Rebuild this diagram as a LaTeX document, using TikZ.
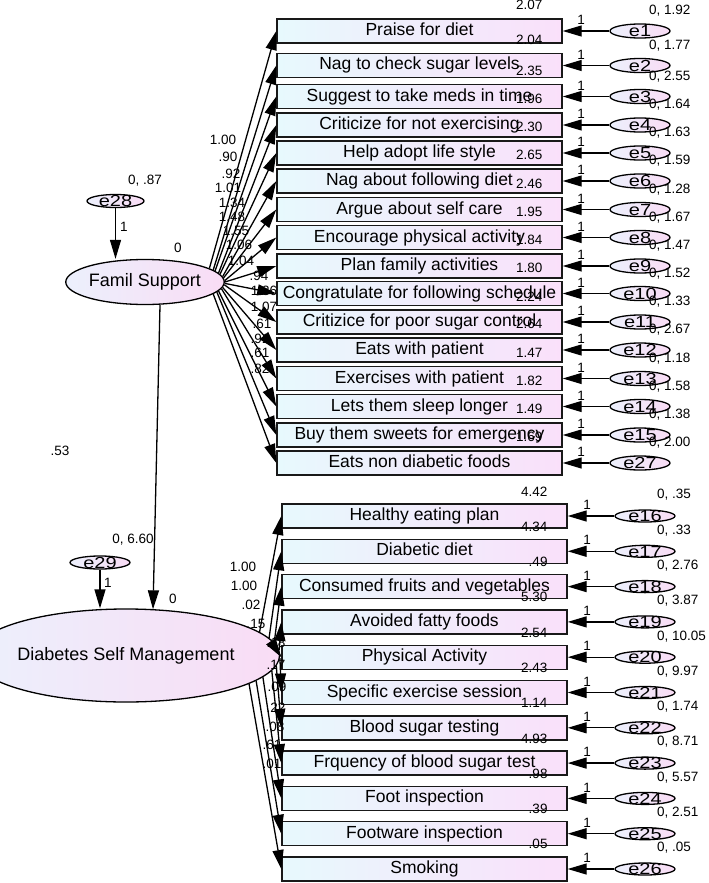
\documentclass[tikz,border=0pt]{standalone}
\usepackage{fontspec}
\setmainfont{Liberation Sans}
\usepackage{graphicx}
\usetikzlibrary{shapes.geometric,arrows.meta,calc}
\definecolor{boxL}{HTML}{E7F9FD}
\definecolor{boxR}{HTML}{FAE0FA}
\definecolor{ellL}{HTML}{ECF0FC}
\definecolor{ellR}{HTML}{F9DCF5}
\newcommand\myelab[1]{\raisebox{-0.36em}[0pt][0pt]{\scalebox{1.25}[1]{#1}}}
\begin{document}
\begin{tikzpicture}[x=1pt,y=-1pt,
 obs/.style={rectangle,draw=black!90,line width=1.4pt,minimum width=285pt,minimum height=24pt,inner sep=0pt,
   left color=boxL,right color=boxR,font=\fontsize{17.5}{18}\selectfont,text height=12.5pt,text depth=3.5pt},
 lat/.style={ellipse,draw=black,line width=1.3pt,inner sep=0pt,left color=ellL,right color=ellR,
   font=\fontsize{18}{20}\selectfont},
 err/.style={ellipse,draw=black,line width=1.3pt,inner sep=0pt,minimum width=60pt,
   left color=ellL,right color=ellR,font=\fontsize{16}{18}\selectfont},
 num/.style={font=\fontsize{13.5}{14}\selectfont,inner sep=0pt},
 arr/.style={line width=1.3pt,-{Triangle[length=19pt,width=11pt]}},
]
\path[fill=white,use as bounding box] (0,0) rectangle (709,883);

% latent variables
\node[lat,minimum width=154pt,minimum height=45pt] (fs) at (145,282) {Famil Support};
\node[lat,minimum width=245pt,minimum height=93pt] (dsm) at (126,655.5) {Diabetes Self Management};
\node[err,minimum width=57pt,minimum height=13pt] (e28) at (115.5,201) {\myelab{e28}};
\node[err,minimum width=60pt,minimum height=13pt] (e29) at (100,562.5) {\myelab{e29}};

\draw[arr] (e28.south) -- (e28.south |- fs.north);
\draw[arr] (e29.south) -- (e29.south |- dsm.north);
\draw[arr] ($(fs.south)+(15,0)$) -- ($(dsm.north)+(27,1)$);

\node[num] (v28) at (145,181) {0, .87};
\node[num] (w28) at (124,227) {1};
\node[num] (m28) at (178,248) {0};
\node[num] (v29) at (133,540) {0, 6.60};
\node[num] (w29) at (108,583) {1};
\node[num] (m29) at (173,599) {0};
\node[num] (r53) at (60,451) {.53};

% Family support indicators
\foreach \i/\y/\t/\ic/\v/\e/\l/\lx/\ly in {
 1/31/Praise for diet/2.07/{0, 1.92}/e1/1.00/223/140,
 2/65.5/Nag to check sugar levels/2.04/{0, 1.77}/e2/.90/228/157,
 3/96.5/Suggest to take meds in time/2.35/{0, 2.55}/e3/.92/231/174,
 4/125/Criticize for not exercising/1.96/{0, 1.64}/e4/1.01/228/188,
 5/153/Help adopt life style/2.30/{0, 1.63}/e5/1.34/232/203,
 6/181/Nag about following diet/2.65/{0, 1.59}/e6/1.48/232/217,
 7/209.5/Argue about self care/2.46/{0, 1.28}/e7/1.55/236/231,
 8/237.5/Encourage physical activity/1.95/{0, 1.67}/e8/1.06/239/245,
 9/266/Plan family activities/1.84/{0, 1.47}/e9/1.04/241/261,
 10/293.5/Congratulate for following schedule/1.80/{0, 1.52}/e10/.94/259/276,
 11/322/Critizice for poor sugar control/2.24/{0, 1.33}/e11/1.36/264/291,
 12/350/Eats with patient/2.64/{0, 2.67}/e12/1.07/264/307,
 13/378.5/Exercises with patient/1.47/{0, 1.18}/e13/.61/262/324,
 14/406.5/Lets them sleep longer/1.82/{0, 1.58}/e14/.91/260/339,
 15/435/Buy them sweets for emergency/1.49/{0, 1.38}/e15/.61/260/353,
 16/463/Eats non diabetic foods/1.69/{0, 2.00}/e27/.82/260/369}
{
 \node[obs] (t\i) at (419.5,\y) {\t};
 \node[err,minimum height=14pt] (te\i) at (640,\y) {\myelab{\e}};
 \draw[arr] (te\i) -- (t\i);
 \pgfmathtruncatemacro\ang{12-(\i-1)*22/15}
 \draw[arr] (fs.\ang) -- (t\i.west);
 \node[num,anchor=east] (ti\i) at ($(t\i.north east)+(-20,-13)$) {\ic};
 \node[num,anchor=west] (tv\i) at ($(te\i.center)+(9,-20)$) {\v};
 \node[num] (tw\i) at ($(te\i.center)+(-59,-11)$) {1};
 \node[num] (tl\i) at (\lx,\ly) {\l};
}

% Diabetes self management indicators
\foreach \i/\y/\t/\ic/\v/\e/\l/\lx/\ly in {
 1/516/Healthy eating plan/4.42/{0, .35}/e16/1.00/243/567,
 2/551.3/Diabetic diet/4.34/{0, .33}/e17/1.00/244/586,
 3/586.6/Consumed fruits and vegetables/.49/{0, 2.76}/e18/.02/251/605,
 4/621.9/Avoided fatty foods/5.30/{0, 3.87}/e19/.15/256/624,
 5/657.2/Physical Activity/2.54/{0, 10.05}/e20/.18/276/643,
 6/692.5/Specific exercise session/2.43/{0, 9.97}/e21/.17/276/665,
 7/727.8/Blood sugar testing/1.14/{0, 1.74}/e22/.09/277/687,
 8/763.1/Frquency of blood sugar test/4.93/{0, 8.71}/e23/.22/276/708,
 9/798.4/Foot inspection/.98/{0, 5.57}/e24/.08/275/727,
 10/833.7/Footware inspection/.39/{0, 2.51}/e25/.61/272/745,
 11/869/Smoking/.05/{0, .05}/e26/.01/272/764}
{
 \node[obs] (d\i) at (424.5,\y) {\t};
 \node[err,minimum height=12pt] (de\i) at (645,\y) {\myelab{\e}};
 \draw[arr] (de\i) -- (d\i);
 \pgfmathtruncatemacro\ang{10-(\i-1)*2.4}
 \draw[arr] (dsm.\ang) -- (d\i.west);
 \node[num,anchor=east] (di\i) at ($(d\i.north east)+(-20,-12)$) {\ic};
 \node[num,anchor=west] (dv\i) at ($(de\i.center)+(12,-21)$) {\v};
 \node[num] (dw\i) at ($(de\i.center)+(-58,-11)$) {1};
 \node[num] (dl\i) at (\lx,\ly) {\l};
}
\end{tikzpicture}
\end{document}
